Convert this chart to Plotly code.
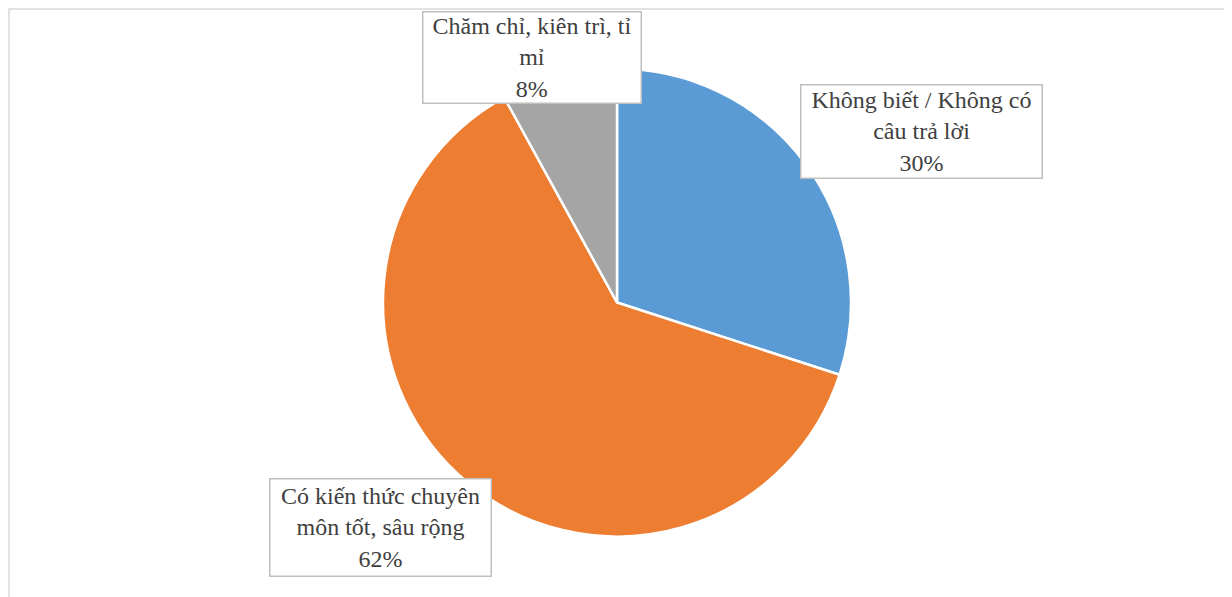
import plotly.graph_objects as go

labels = ["Không biết / Không có câu trả lời", "Có kiến thức chuyên môn tốt, sâu rộng", "Chăm chỉ, kiên trì, tỉ mỉ"]
values = [30, 62, 8]
colors = ["#5B9BD5", "#ED7D31", "#A5A5A5"]
label_texts = ["Không biết / Không có<br>câu trả lời<br>30%",
               "Có kiến thức chuyên<br>môn tốt, sâu rộng<br>62%",
               "Chăm chỉ, kiên trì, tỉ<br>mỉ<br>8%"]

W, H = 1232, 597
OFF = 8  # page body margin

def px_x(v):
    return (v - OFF) / W

def px_y(v):
    return 1 - (v - OFF) / H

fig = go.Figure(go.Pie(
    labels=labels, values=values, sort=False, direction="clockwise", rotation=0,
    marker=dict(colors=colors, line=dict(color="white", width=2.5)),
    textinfo="none", hoverinfo="label+percent", showlegend=False,
    domain=dict(x=[px_x(383), px_x(851)], y=[px_y(537), px_y(68)]),
))

# box centre (px), box width, box height
label_boxes = [(921, 131, 243, 95), (380, 527, 223, 99), (532, 58, 220, 93)]
for txt, (px, py, bw, bh) in zip(label_texts, label_boxes):
    fig.add_annotation(
        text=txt, x=px_x(px), y=px_y(py), xref="paper", yref="paper",
        showarrow=False, xanchor="center", yanchor="middle", align="center",
        valign="middle", width=bw - 6, height=bh - 6,
        font=dict(family="Liberation Serif", size=24, color="#404040"),
        bgcolor="white", bordercolor="#BFBFBF", borderwidth=1.5, borderpad=1.5,
    )

fig.add_shape(type="rect", xref="paper", yref="paper",
              x0=1 / W, x1=px_x(1226), y0=-0.05, y1=1 - 1 / H,
              line=dict(color="#D9D9D9", width=1.5), layer="below")

fig.update_layout(
    width=W, height=H, margin=dict(l=0, r=0, t=0, b=0),
    paper_bgcolor="white", plot_bgcolor="white",
)

fig.write_html("out.html")
